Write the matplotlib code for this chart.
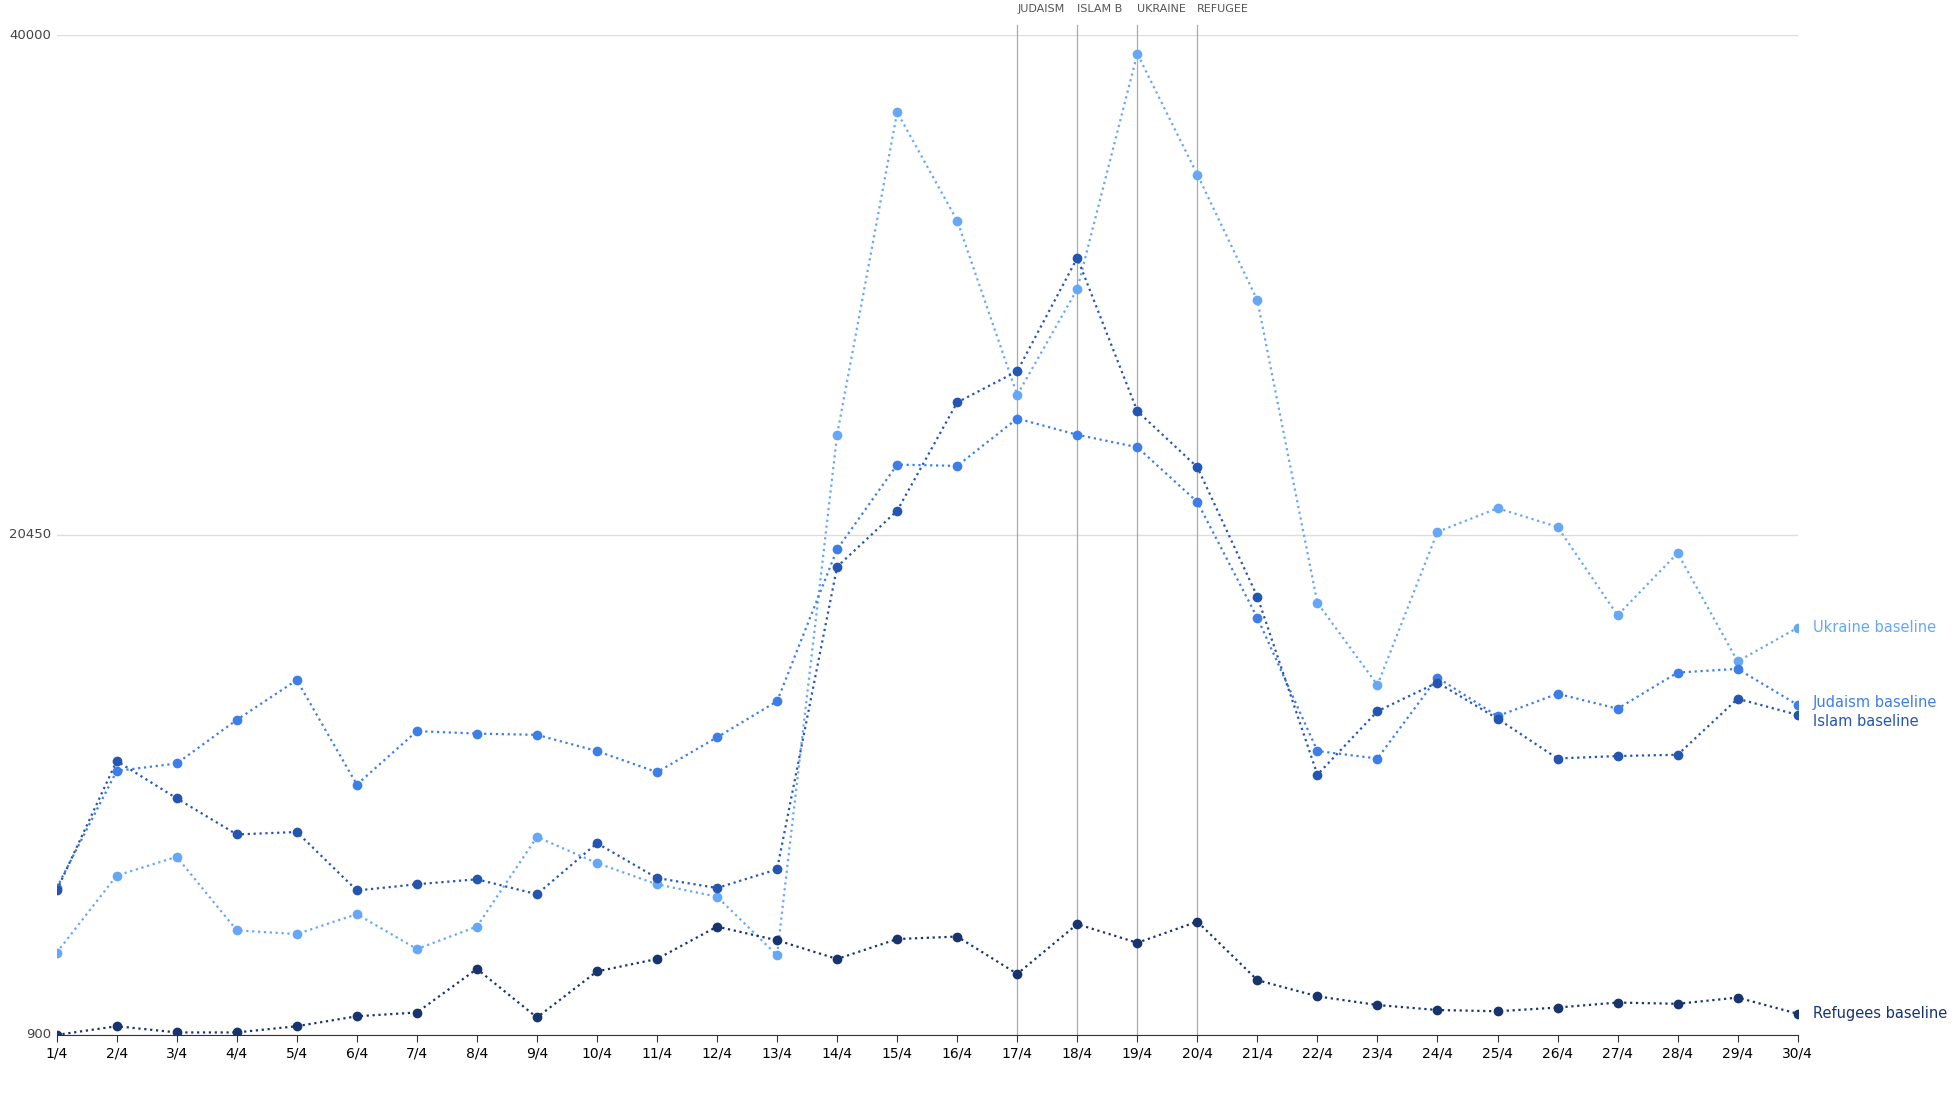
import matplotlib
matplotlib.use("Agg")
import matplotlib.pyplot as plt

days = [f"{d}/4" for d in range(1, 31)]
ukraine = [4114,7132,7863,4990,4844,5623,4260,5136,8642,7619,6791,6305,4016,24368,36979,32743,25927,30065,39268,34545,29627,17795,14582,20571,21496,20766,17308,19743,15507,16822]
judaism = [6645,11222,11514,13219,14777,10687,12780,12683,12634,12001,11174,12537,13949,19889,23200,23151,25002,24368,23882,21739,17211,12001,11709,14874,13365,14241,13657,15069,15215,13803]
islam = [6548,11612,10151,8739,8836,6548,6791,6986,6402,8398,7035,6645,7376,19207,21398,25634,26852,31283,25293,23103,18039,11076,13559,14680,13267,11709,11806,11855,14046,13413]
refugees = [900,1241,997,997,1241,1630,1776,3481,1582,3383,3870,5136,4600,3870,4649,4747,3286,5233,4503,5331,3042,2409,2069,1874,1825,1971,2166,2117,2361,1728]
events = {"JUDAISM": 16, "ISLAM B": 17, "UKRAINE": 18, "REFUGEE": 19}
yticks = [900, 20450, 40000]

fig = plt.figure(figsize=(19.54, 10.94), dpi=100)
ax = fig.add_axes([0.029, 0.054, 0.891, 0.914])
series = [("Ukraine baseline", ukraine, "#66a8f5"),
          ("Judaism baseline", judaism, "#3d7fe6"),
          ("Islam baseline", islam, "#2456b0"),
          ("Refugees baseline", refugees, "#17346e")]
x = list(range(len(days)))
for name, vals, c in series:
    ax.plot(x, vals, ls=":", lw=1.6, color=c, marker="o", ms=6, zorder=3)
    dy = {"Judaism baseline": 100, "Islam baseline": -250}.get(name, 0)
    ax.text(len(days) - 1 + 0.25, vals[-1] + dy, name, color=c, fontsize=10.5, va="center")
for lab, i in events.items():
    ax.axvline(i, color="#aaaaaa", lw=0.9, ymax=1.01, clip_on=False)
    ax.text(i, 41000, lab, ha="left", fontsize=8, color="#555555", va="center")
ax.set_xlim(0, len(days) - 1)
ax.set_ylim(900, 40000)
ax.set_yticks(yticks)
ax.set_yticklabels([str(t) for t in yticks], fontsize=9.5, color="#444444")
ax.set_xticks(x)
ax.set_xticklabels(days, fontsize=10)
ax.grid(axis="y", color="#dddddd", lw=1)
for s in ["top", "right", "left"]:
    ax.spines[s].set_visible(False)
ax.spines["bottom"].set_color("#333333")
ax.tick_params(axis="y", length=0, pad=4)
ax.tick_params(axis="x", length=5, color="#333333")
for lbl in ax.get_yticklabels():
    lbl.set_verticalalignment("center")
fig.savefig("out.png")
